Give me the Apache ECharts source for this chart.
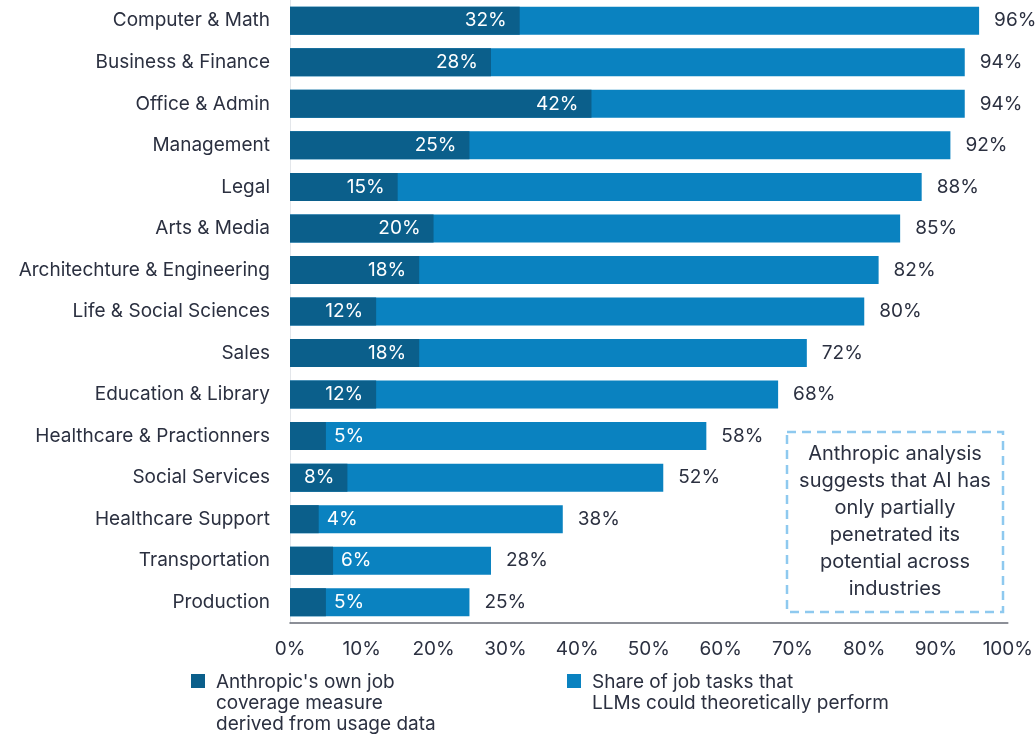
<!DOCTYPE html>
<html>
<head>
<meta charset="utf-8">
<script src="https://cdn.jsdelivr.net/npm/echarts@6/dist/echarts.min.js"></script>
<style>
  html, body { margin: 0; padding: 0; background: #fff; }
  #main { width: 1036px; height: 735px; }
</style>
</head>
<body>
<div id="main"></div>
<script>
// categories, top to bottom
var categories = [
  'Computer & Math', 'Business & Finance', 'Office & Admin', 'Management', 'Legal',
  'Arts & Media', 'Architechture & Engineering', 'Life & Social Sciences', 'Sales',
  'Education & Library', 'Healthcare & Practionners', 'Social Services',
  'Healthcare Support', 'Transportation', 'Production'
];
// share of job tasks LLMs could theoretically perform (%)
var theoretical = [96, 94, 94, 92, 88, 85, 82, 80, 72, 68, 58, 52, 38, 28, 25];
// Anthropic's own coverage measure (%)
var observed = [32, 28, 42, 25, 15, 20, 18, 12, 18, 12, 5, 8, 4, 6, 5];

var darkName = "Anthropic's own job\ncoverage measure\nderived from usage data";
var lightName = "Share of job tasks that\nLLMs could theoretically perform";

var DARK = '#0b5f8b';
var LIGHT = '#0a82c0';
var TEXT = '#2b3040';
var FONT = 'Inter, "Noto Sans", sans-serif';

var dom = document.getElementById('main');
var myChart = echarts.init(dom);

var observedData = observed.map(function (v) {
  // small values sit just outside the dark bar
  var small = v <= 6;
  return {
    value: v,
    label: small ? { position: 'right', distance: 8 } : { position: 'insideRight', distance: 13 }
  };
});

var option = {
  animation: false,
  textStyle: { fontFamily: FONT },
  grid: { left: 290, right: 24, top: -3, bottom: 112 },
  xAxis: {
    type: 'value',
    min: 0,
    max: 100,
    interval: 10,
    axisLine: { show: true, lineStyle: { color: '#676b76', width: 1.5 } },
    axisTick: { show: false },
    splitLine: { show: false },
    axisLabel: {
      formatter: '{value}%',
      color: TEXT,
      fontSize: 19,
      margin: 17,
      fontFamily: FONT
    }
  },
  yAxis: {
    type: 'category',
    inverse: true,
    data: categories,
    axisLine: { show: true, lineStyle: { color: '#e3e6ea', width: 1 } },
    axisTick: { show: false },
    axisLabel: { color: TEXT, fontSize: 19, margin: 20, fontFamily: FONT }
  },
  series: [
    {
      name: lightName,
      type: 'bar',
      data: theoretical,
      barWidth: 28,
      barGap: '-100%',
      itemStyle: { color: LIGHT },
      label: {
        show: true,
        position: 'right',
        distance: 15,
        formatter: '{c}%',
        color: TEXT,
        fontSize: 19,
        fontFamily: FONT
      },
      z: 2
    },
    {
      name: darkName,
      type: 'bar',
      data: observedData,
      barWidth: 28,
      barGap: '-100%',
      itemStyle: { color: DARK },
      label: {
        show: true,
        formatter: '{c}%',
        color: '#ffffff',
        fontSize: 19,
        fontFamily: FONT
      },
      z: 3
    }
  ],
  graphic: [
    // legend
    { type: 'rect', x: 191, y: 674, shape: { width: 14, height: 14 }, style: { fill: DARK } },
    {
      type: 'text', x: 216, y: 672,
      style: { text: darkName, fill: TEXT, font: '19px ' + FONT, lineHeight: 21 }
    },
    { type: 'rect', x: 567, y: 674, shape: { width: 14, height: 14 }, style: { fill: LIGHT } },
    {
      type: 'text', x: 592, y: 672,
      style: { text: lightName, fill: TEXT, font: '19px ' + FONT, lineHeight: 21 }
    },
    // annotation box
    {
      type: 'rect', x: 787, y: 432,
      shape: { width: 216, height: 180 },
      style: { fill: 'none', stroke: '#8ec9ef', lineWidth: 2.5, lineDash: [9, 6] }
    },
    {
      type: 'text', x: 895, y: 440,
      style: {
        text: 'Anthropic analysis\nsuggests that AI has\nonly partially\npenetrated its\npotential across\nindustries',
        fill: TEXT,
        font: '20px ' + FONT,
        lineHeight: 27,
        align: 'center',
        verticalAlign: 'top'
      }
    }
  ]
};

if (option && typeof option === 'object') {
  myChart.setOption(option, true);
}
</script>
</body>
</html>
